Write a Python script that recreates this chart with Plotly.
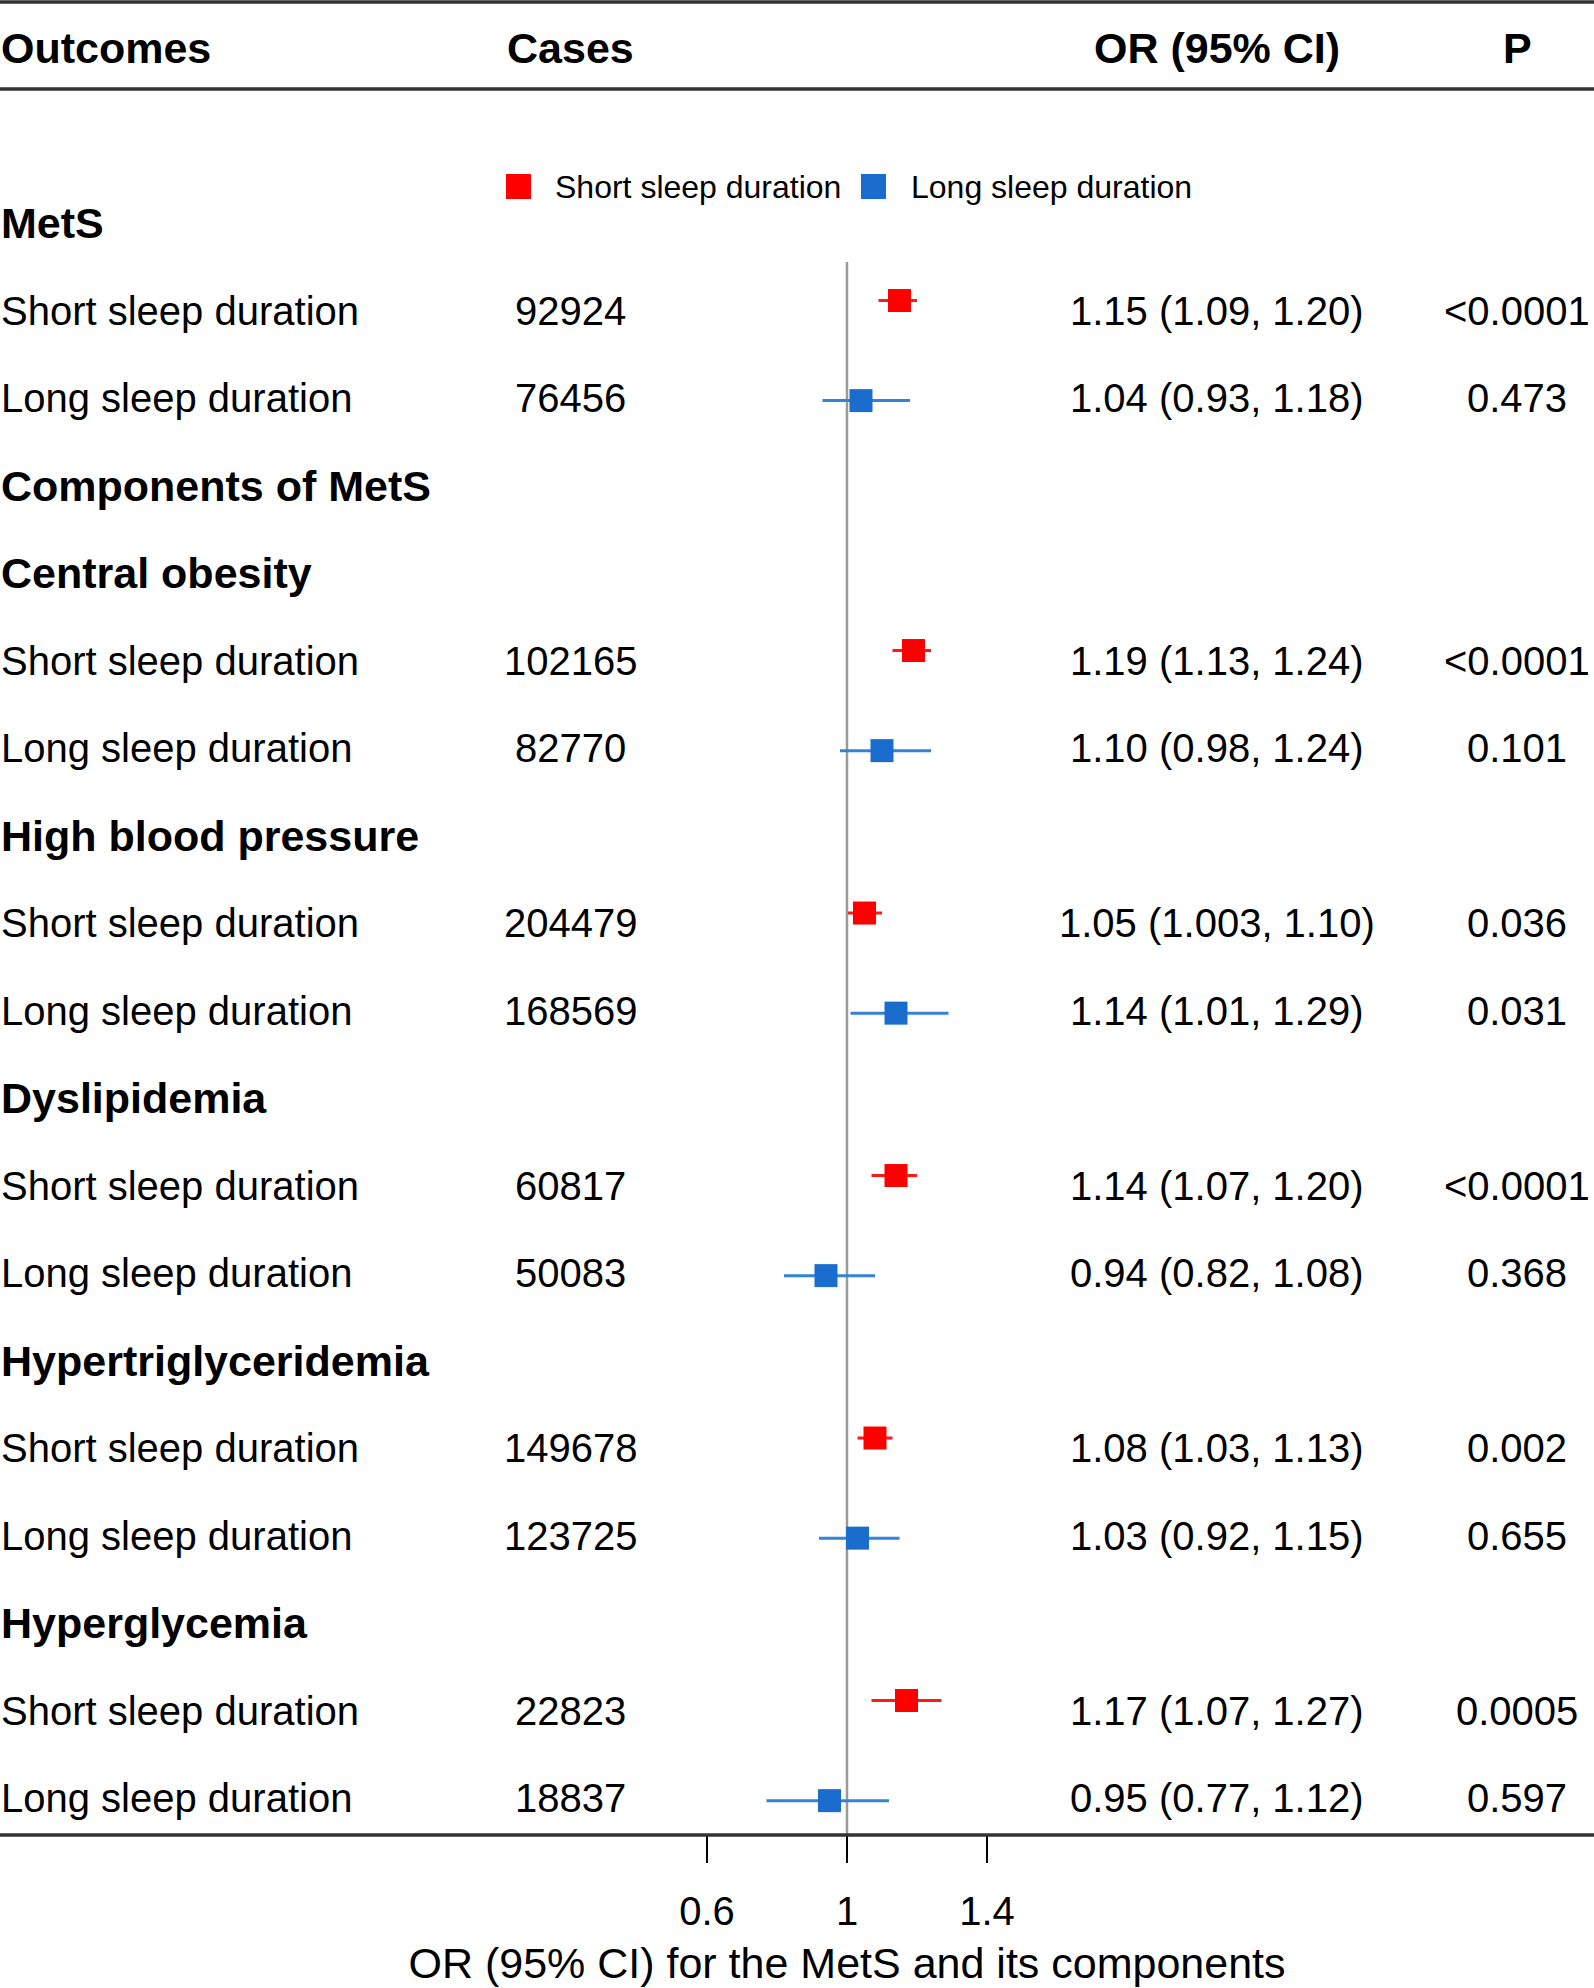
import plotly.graph_objects as go

# ---------------- data ----------------
outcomes = ["MetS", "Short sleep duration", "Long sleep duration",
            "Components of MetS",
            "Central obesity", "Short sleep duration", "Long sleep duration",
            "High blood pressure", "Short sleep duration", "Long sleep duration",
            "Dyslipidemia", "Short sleep duration", "Long sleep duration",
            "Hypertriglyceridemia", "Short sleep duration", "Long sleep duration",
            "Hyperglycemia", "Short sleep duration", "Long sleep duration"]
heading = [True, False, False, True, True, False, False, True, False, False,
           True, False, False, True, False, False, True, False, False]
group = ["", "Short", "Long", "", "", "Short", "Long", "", "Short", "Long",
         "", "Short", "Long", "", "Short", "Long", "", "Short", "Long"]
cases = ["", "92924", "76456", "", "", "102165", "82770", "", "204479", "168569",
         "", "60817", "50083", "", "149678", "123725", "", "22823", "18837"]
or_est = [None, 1.15, 1.04, None, None, 1.19, 1.10, None, 1.05, 1.14,
          None, 1.14, 0.94, None, 1.08, 1.03, None, 1.17, 0.95]
or_low = [None, 1.09, 0.93, None, None, 1.13, 0.98, None, 1.003, 1.01,
          None, 1.07, 0.82, None, 1.03, 0.92, None, 1.07, 0.77]
or_high = [None, 1.20, 1.18, None, None, 1.24, 1.24, None, 1.10, 1.29,
           None, 1.20, 1.08, None, 1.13, 1.15, None, 1.27, 1.12]
or_text = ["", "1.15 (1.09, 1.20)", "1.04 (0.93, 1.18)", "", "", "1.19 (1.13, 1.24)",
           "1.10 (0.98, 1.24)", "", "1.05 (1.003, 1.10)", "1.14 (1.01, 1.29)", "",
           "1.14 (1.07, 1.20)", "0.94 (0.82, 1.08)", "", "1.08 (1.03, 1.13)",
           "1.03 (0.92, 1.15)", "", "1.17 (1.07, 1.27)", "0.95 (0.77, 1.12)"]
p_text = ["", "<0.0001", "0.473", "", "", "<0.0001", "0.101", "", "0.036", "0.031",
          "", "<0.0001", "0.368", "", "0.002", "0.655", "", "0.0005", "0.597"]
headers = ["Outcomes", "Cases", "OR (95% CI)", "P"]
tick_vals = [0.6, 1, 1.4]
tick_text = ["0.6", "1", "1.4"]
series_names = {"Short": "Short sleep duration", "Long": "Long sleep duration"}

# ---------------- style ----------------
W, H = 1594, 1988
FONT = "Liberation Sans, Arial, sans-serif"
colors = {"Short": "#FF0000", "Long": "#1A6DCC"}
err_colors = {"Short": "#FF1A1A", "Long": "#3383D6"}
nudge = {"Short": -0.114, "Long": 0.03}

def py(px):
    return 1 - px / H

def px_x(px):
    return px / W

fig = go.Figure()

rows = list(range(len(outcomes)))
for g in ["Short", "Long"]:
    idx = [i for i in rows if group[i] == g]
    xs = [or_est[i] for i in idx]
    ys = [i + nudge[g] for i in idx]
    plus = [or_high[i] - or_est[i] for i in idx]
    minus = [or_est[i] - or_low[i] for i in idx]
    fig.add_trace(go.Scatter(
        x=xs, y=ys, mode="markers", name=series_names[g], showlegend=False,
        marker=dict(symbol="square", size=23, color=colors[g], line=dict(width=0)),
        error_x=dict(type="data", symmetric=False, array=plus, arrayminus=minus,
                     thickness=3, width=0, color=err_colors[g]),
    ))

annotations = []
# row texts
for i in rows:
    annotations.append(dict(
        x=px_x(-1), y=i, xref="paper", yref="y", text=outcomes[i], showarrow=False,
        xanchor="left", yanchor="middle",
        font=dict(family=FONT, size=43 if heading[i] else 40, color="black",
                  weight="bold" if heading[i] else "normal")))
    if cases[i]:
        annotations.append(dict(x=px_x(570), y=i, xref="paper", yref="y", text=cases[i],
                                showarrow=False, xanchor="center", yanchor="middle",
                                font=dict(family=FONT, size=40, color="black")))
    if or_text[i]:
        annotations.append(dict(x=px_x(1217), y=i, xref="paper", yref="y", text=or_text[i],
                                showarrow=False, xanchor="center", yanchor="middle",
                                font=dict(family=FONT, size=40, color="black")))
    if p_text[i]:
        annotations.append(dict(x=px_x(1517), y=i, xref="paper", yref="y", text=p_text[i],
                                showarrow=False, xanchor="center", yanchor="middle",
                                font=dict(family=FONT, size=40, color="black")))

# header
header_x = [-1, 570, 1217, 1517]
header_anchor = ["left", "center", "center", "center"]
for t, hx, an in zip(headers, header_x, header_anchor):
    annotations.append(dict(x=px_x(hx), y=py(48), xref="paper", yref="paper", text=t,
                            showarrow=False, xanchor=an, yanchor="middle",
                            font=dict(family=FONT, size=43, color="black", weight="bold")))

# manual legend
shapes = []
leg_items = [("Short", 506, 553), ("Long", 861, 909)]
for g, sx, tx in leg_items:
    shapes.append(dict(type="rect", xref="paper", yref="paper",
                       x0=px_x(sx), x1=px_x(sx + 25), y0=py(174), y1=py(199),
                       fillcolor=colors[g], line=dict(width=0)))
    annotations.append(dict(x=px_x(tx), y=py(187), xref="paper", yref="paper",
                            text=series_names[g], showarrow=False, xanchor="left",
                            yanchor="middle", font=dict(family=FONT, size=32, color="black")))

# geometry of rows
area_top_px, line_top_px, bot_px = 200, 262, 1835
row0_px, row_step = 223, 87.5
y_area_top = (area_top_px - row0_px) / row_step
y_line_top = (line_top_px - row0_px) / row_step
y_bot = (bot_px - row0_px) / row_step

# horizontal rules
for ypx in [2, 89, 1835]:
    shapes.append(dict(type="line", xref="paper", yref="paper", x0=0, x1=1,
                       y0=py(ypx), y1=py(ypx), line=dict(color="#333333", width=3.5)))
# reference line at OR = 1
shapes.append(dict(type="line", xref="x", yref="y", x0=1, x1=1, y0=y_bot, y1=y_line_top,
                   line=dict(color="#9A9A9A", width=2.5), layer="below"))

fig.update_layout(
    width=W, height=H, margin=dict(l=0, r=0, t=0, b=0),
    paper_bgcolor="white", plot_bgcolor="white",
    font=dict(family=FONT, color="black"),
    shapes=shapes, annotations=annotations, showlegend=False,
    xaxis=dict(domain=[100 / W, 1], range=[1 - 747 / 350, 1 + 747 / 350],
               tickvals=tick_vals, ticktext=tick_text, ticks="outside", ticklen=27,
               tickwidth=1.5, tickcolor="black", showgrid=False, zeroline=False,
               showline=False, tickfont=dict(family=FONT, size=40, color="black"),
               ticklabelstandoff=14,
               title=dict(text="OR (95% CI) for the MetS and its components",
                          font=dict(family=FONT, size=43, color="black"), standoff=15),
               automargin=False),
    yaxis=dict(domain=[1 - bot_px / H, 1 - area_top_px / H], range=[y_bot, y_area_top],
               visible=False, showgrid=False, zeroline=False),
)

fig.write_html("out.html", config={"displayModeBar": False},
               post_script="document.body.style.margin='0';document.body.style.overflow='hidden';")
